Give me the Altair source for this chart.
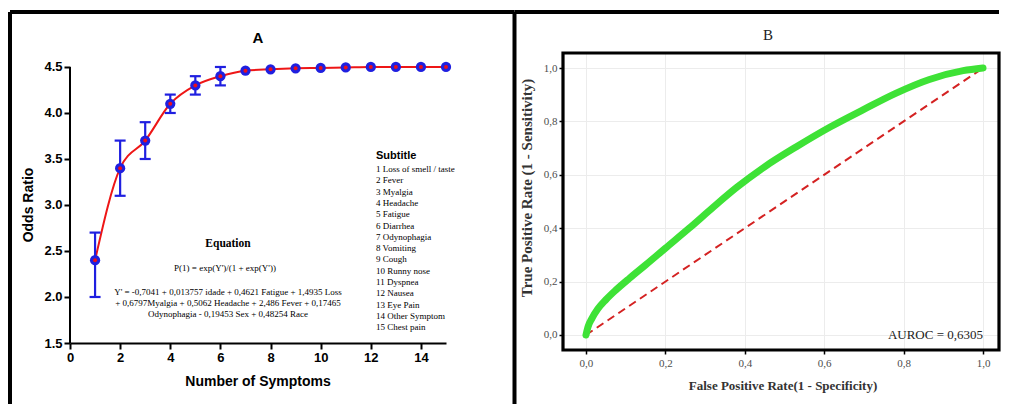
import altair as alt
import pandas as pd

# ---------------- Panel A data ----------------
n_symptoms = list(range(1, 16))
odds_ratio = [2.4, 3.4, 3.7, 4.1, 4.3, 4.4, 4.46, 4.475, 4.485, 4.49, 4.495, 4.5, 4.5, 4.5, 4.5]
err_x = [1, 2, 3, 4, 5, 6]
err_low = [2.0, 3.1, 3.5, 4.0, 4.2, 4.3]
err_high = [2.7, 3.7, 3.9, 4.2, 4.4, 4.5]
y_ticks_a = [1.5, 2.0, 2.5, 3.0, 3.5, 4.0, 4.5]
x_ticks_a = [0, 2, 4, 6, 8, 10, 12, 14]

title_a = "A"
x_title_a = "Number of Symptoms"
y_title_a = "Odds Ratio"
equation_title = "Equation"
equation_line = "P(1) = exp(Y')/(1 + exp(Y'))"
model_lines = [
    "Y' = -0,7041 + 0,013757 idade + 0,4621 Fatigue + 1,4935 Loss",
    "+ 0,6797Myalgia + 0,5062 Headache + 2,486 Fever + 0,17465",
    "Odynophagia - 0,19453 Sex + 0,48254 Race",
]
subtitle_title = "Subtitle"
subtitle_lines = [
    "1 Loss of smell / taste", "2 Fever", "3 Myalgia", "4 Headache", "5 Fatigue",
    "6 Diarrhea", "7 Odynophagia", "8 Vomiting", "9 Cough", "10 Runny nose",
    "11 Dyspnea", "12 Nausea", "13 Eye Pain", "14 Other Symptom", "15 Chest pain",
]

# ---------------- Panel B data ----------------
fpr = [0.0, 0.005, 0.015, 0.03, 0.05, 0.075, 0.11, 0.15, 0.20, 0.26, 0.32, 0.38,
       0.45, 0.53, 0.615, 0.70, 0.78, 0.865, 0.95, 1.0]
tpr = [0.0, 0.030, 0.062, 0.098, 0.132, 0.168, 0.213, 0.262, 0.325, 0.400, 0.478, 0.553,
       0.630, 0.705, 0.779, 0.845, 0.905, 0.957, 0.990, 1.0]
diag_x = [0.0, 1.0]
diag_y = [0.0, 1.0]
ticks_b = [0.0, 0.2, 0.4, 0.6, 0.8, 1.0]
title_b = "B"
x_title_b = "False Positive Rate(1 - Specificity)"
y_title_b = "True Positive Rate (1 - Sensitivity)"
auroc_text = "AUROC = 0,6305"

# ---------------- helpers ----------------
one = pd.DataFrame({"k": [0]})
SANS = "Liberation Sans"
SERIF = "Liberation Serif"
BLUE = "#1f1fe0"
RED = "#ee1616"


def txt(text, x, y, size, font, weight="normal", align="center",
        baseline="middle", angle=0, color="black"):
    kw = dict(text=text, fontSize=size, font=font, fontWeight=weight,
              align=align, baseline=baseline, color=color)
    if angle:
        kw["angle"] = angle
    return alt.Chart(one).mark_text(**kw).encode(x=alt.value(x), y=alt.value(y))


def vrule(x, y1, y2, w=4):
    return alt.Chart(one).mark_rule(color="black", strokeWidth=w).encode(
        x=alt.value(x), y=alt.value(y1), y2=alt.value(y2))


def hrule(y, x1, x2, w=4):
    return alt.Chart(one).mark_rule(color="black", strokeWidth=w).encode(
        y=alt.value(y), x=alt.value(x1), x2=alt.value(x2))


# ---------------- Panel A ----------------
WA, HA = 376, 290
dfA = pd.DataFrame({"n": n_symptoms, "orr": odds_ratio})
dfE = pd.DataFrame({"n": err_x, "lo": err_low, "hi": err_high})

xA = alt.Scale(domain=[0, 15], nice=False, zero=False)
yA = alt.Scale(domain=[1.5, 4.652], nice=False, zero=False)
axA_x = alt.Axis(values=x_ticks_a, title=None, grid=False, domainColor="black",
                 domainWidth=2, tickColor="black", tickWidth=2, tickSize=6,
                 labelFont=SANS, labelFontWeight="bold", labelFontSize=13,
                 labelColor="black", labelPadding=2, labelFlush=False)
axA_y = alt.Axis(values=y_ticks_a, format=".1f", title=None, grid=False, domain=False,
                 tickColor="black", tickWidth=2, tickSize=6,
                 labelFont=SANS, labelFontWeight="bold", labelFontSize=13,
                 labelColor="black", labelPadding=2, labelFlush=False)

lineA = alt.Chart(dfA).mark_line(color=RED, strokeWidth=2, interpolate="monotone").encode(
    x=alt.X("n:Q", scale=xA, axis=axA_x),
    y=alt.Y("orr:Q", scale=yA, axis=axA_y),
)
errA = alt.Chart(dfE).mark_rule(color=BLUE, strokeWidth=2.2).encode(
    x=alt.X("n:Q", scale=xA), y=alt.Y("lo:Q", scale=yA), y2="hi:Q")
capLo = alt.Chart(dfE).mark_tick(color=BLUE, orient="horizontal", size=11, thickness=2.2, opacity=1).encode(
    x=alt.X("n:Q", scale=xA), y=alt.Y("lo:Q", scale=yA))
capHi = alt.Chart(dfE).mark_tick(color=BLUE, orient="horizontal", size=11, thickness=2.2, opacity=1).encode(
    x=alt.X("n:Q", scale=xA), y=alt.Y("hi:Q", scale=yA))
ptsA = alt.Chart(dfA).mark_circle(color=BLUE, size=105, opacity=1).encode(
    x=alt.X("n:Q", scale=xA), y=alt.Y("orr:Q", scale=yA))
ctrA = alt.Chart(dfA).mark_circle(color="#e8101c", size=16, opacity=1).encode(
    x=alt.X("n:Q", scale=xA), y=alt.Y("orr:Q", scale=yA))
yLineA = alt.Chart(one).mark_rule(color="black", strokeWidth=2).encode(
    x=alt.value(0), y=alt.datum(1.5), y2=alt.datum(4.5))

EQX = 158
textsA = [
    txt(title_a, 188, -15, 15, SANS, "bold"),
    txt(y_title_a, -41, 152, 14, SANS, "bold", angle=270),
    txt(x_title_a, 188, 329, 14, SANS, "bold"),
    txt(equation_title, EQX, 191, 11.5, SERIF, "bold"),
    txt(equation_line, EQX - 3, 215, 9, SERIF),
    txt(subtitle_title, 306, 103, 11, SANS, "bold", align="left"),
]
for i, line in enumerate(model_lines):
    textsA.append(txt(line, EQX, 238.5 + i * 11.2, 9, SERIF))
for i, line in enumerate(subtitle_lines):
    textsA.append(txt(line, 306, 116 + i * 11.3, 9, SERIF, align="left"))

borderA = [vrule(-60, -41, 352), hrule(-41, -60, 444.5)]

panelA = alt.layer(lineA, errA, capLo, capHi, ptsA, ctrA, yLineA, *textsA, *borderA).properties(
    width=WA, height=HA)

# ---------------- Panel B ----------------
WB, HB = 436, 297
dfR = pd.DataFrame({"fpr": fpr, "tpr": tpr})
dfD = pd.DataFrame({"fpr": diag_x, "tpr": diag_y})

xB = alt.Scale(domain=[-0.0579, 1.0403], nice=False, zero=False)
yB = alt.Scale(domain=[-0.0562, 1.0562], nice=False, zero=False)
lblExpr = "replace(format(datum.value, '.1f'), '.', ',')"
axB_x = alt.Axis(values=ticks_b, labelExpr=lblExpr, title=None, grid=True,
                 gridColor="#ececec", gridWidth=1, domain=False, tickColor="black",
                 tickWidth=1.5, tickSize=4, labelFont=SERIF, labelFontSize=11,
                 labelColor="#4d4d4d", labelPadding=3, labelFlush=False)
axB_y = alt.Axis(values=ticks_b, labelExpr=lblExpr, title=None, grid=True,
                 gridColor="#ececec", gridWidth=1, domain=False, tickColor="black",
                 tickWidth=1.5, tickSize=4, labelFont=SERIF, labelFontSize=11,
                 labelColor="#4d4d4d", labelPadding=2, labelFlush=False)

diagB = alt.Chart(dfD).mark_line(color="#d42222", strokeWidth=2, strokeDash=[8, 5]).encode(
    x=alt.X("fpr:Q", scale=xB, axis=axB_x),
    y=alt.Y("tpr:Q", scale=yB, axis=axB_y),
)
rocB = alt.Chart(dfR).mark_line(color="#3ee236", strokeWidth=7, strokeCap="round",
                                strokeJoin="round", interpolate="monotone").encode(
    x=alt.X("fpr:Q", scale=xB), y=alt.Y("tpr:Q", scale=yB))
frameB = alt.Chart(one).mark_rect(fillOpacity=0, stroke="black", strokeWidth=3.2).encode(
    x=alt.value(0), x2=alt.value(WB), y=alt.value(0), y2=alt.value(HB))
aurocB = alt.Chart(one).mark_text(text=auroc_text, font=SERIF, fontSize=13,
                                  align="right", baseline="middle", color="#222222").encode(
    x=alt.datum(1.0), y=alt.datum(0.0))

textsB = [
    txt(title_b, 205, -18, 15, SERIF, color="#222222"),
    txt(y_title_b, -36, 135, 15, SERIF, "bold", angle=270, color="#333333"),
    txt(x_title_b, 220, 333, 13, SERIF, "bold", color="#333333"),
]
borderB = [vrule(-48.5, -41, 352), hrule(-41, -48.5, 436)]

panelB = alt.layer(diagB, rocB, aurocB, frameB, *textsB, *borderB).properties(
    width=WB, height=HB)

chart = alt.hconcat(panelA, panelB, spacing=117, bounds="flush").properties(
    padding={"left": 0, "top": 2, "right": 0, "bottom": 0},
    background="white",
).configure_view(strokeWidth=0)

chart.save("out.html", embed_options={"renderer": "svg", "actions": False})
